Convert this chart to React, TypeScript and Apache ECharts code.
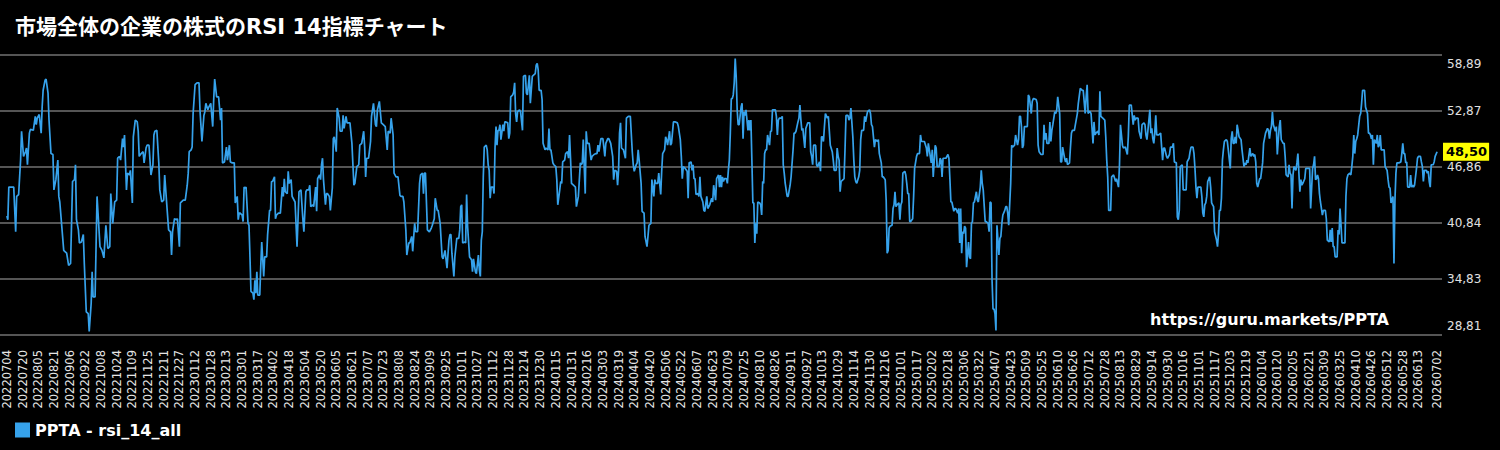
import React, { useEffect, useRef } from 'react';
import * as echarts from 'echarts';

const TITLE = '市場全体の企業の株式のRSI 14指標チャート';
const SERIES_NAME = 'PPTA - rsi_14_all';
const WATERMARK = 'https://guru.markets/PPTA';
const FIRST_DAY_UTC = Date.UTC(2022, 6, 4); // 20220704
const DAY_COUNT = 1460; // 20220704 .. 20260702
const LABEL_EVERY = 16;
const Y_MIN = 28.81;
const Y_MAX = 58.89;
const Y_STEP = 6.016;
const PAD_LEFT = 7;
const PAD_RIGHT = 5;

// day offset from 20220704 for each point
const rsiDays = [
  0,1,2,7,9,10,12,14,15,17,19,20,21,23,24,27,29,30,31,33,35,36,37,39,40,42,43,45,47,48,50,52,53,54,56,58,59,61,63,65,66,67,69,70,71,73,74,76,78,79,81,83,84,86,87,88,90,92,93,95,97,99,101,103,105,106,108,110,112,113,115,116,118,119,120,122,123,125,126,128,129,131,133,134,135,137,139,140,142,143,145,147,149,150,151,153,155,156,158,160,161,163,165,167,168,169,171,173,174,176,177,180,182,184,185,186,188,189,190,192,194,196,197,199,201,202,203,205,206,208,210,211,212,214,216,218,219,220,222,224,225,227,228,230,232,233,235,236,237,
  238,240,241,242,243,244,246,247,248,249,251,252,253,254,255,256,258,259,260,262,263,265,266,268,269,270,271,273,274,275,277,279,281,282,283,284,286,287,288,290,291,292,294,296,297,298,300,302,303,305,306,308,309,310,312,313,315,316,317,319,320,321,322,323,325,326,327,329,330,332,333,334,336,337,339,340,342,343,344,346,347,350,352,354,355,357,359,360,362,364,365,366,367,369,371,372,374,376,377,378,380,382,384,386,388,389,391,392,394,395,397,399,401,402,404,405,407,408,410,411,413,414,416,417,419,421,422,424,425,426,427,429,431,433,434,436,437,439,440,442,444,445,447,449,451,452,453,454,456,457,459,461,462,463,464,465,467,468,469,470,472,474,475,476,478,479,481,482,
  483,484,485,486,487,489,490,491,492,493,494,496,497,498,499,500,501,502,503,504,506,507,508,509,511,512,513,514,516,517,518,519,520,521,523,524,526,527,529,530,531,533,534,536,537,539,540,541,542,543,545,546,547,549,550,552,553,554,555,557,558,560,561,562,564,565,566,567,569,570,572,573,574,575,576,578,580,581,583,584,585,586,587,588,590,591,592,594,596,597,599,601,602,603,604,606,608,609,610,611,613,614,616,618,619,620,622,623,624,625,626,627,629,631,632,634,636,638,639,640,642,643,644,645,647,648,650,651,653,654,655,657,658,660,661,662,664,665,667,668,669,671,672,673,674,676,677,678,680,682,684,685,687,688,689,690,692,694,695,696,698,699,700,701,702,703,705,706,707,708,710,711,712,714,715,717,719,720,721,723,724,726,727,
  728,729,730,731,732,734,735,736,737,738,739,740,741,742,743,744,745,746,747,749,750,751,752,753,754,756,757,758,759,760,761,762,763,764,765,766,768,769,770,771,772,773,774,775,776,778,779,780,781,782,784,785,786,787,788,790,791,792,793,794,796,797,799,800,802,803,804,805,807,808,809,810,811,812,813,814,815,817,819,820,821,822,823,825,826,827,829,830,831,832,833,834,835,837,838,840,842,843,844,846,847,848,849,850,851,853,854,855,856,858,859,860,861,863,864,865,866,867,869,870,871,872,874,875,876,877,878,880,881,882,883,885,886,888,889,890,892,893,894,896,897,898,899,900,901,903,904,905,906,907,908,910,911,912,913,914,916,917,918,919,920,921,922,924,925,926,928,929,931,932,933,934,936,938,939,940,941,942,943,944,945,947,948,949,951,952,953,954,955,956,958,960,961,962,963,964,966,967,968,970,971,972,
  973,974,975,976,977,978,979,981,982,983,984,985,986,987,989,990,991,993,994,995,996,998,999,1001,1002,1003,1004,1005,1006,1007,1008,1009,1010,1012,1013,1014,1015,1016,1018,1019,1020,1021,1022,1024,1025,1026,1028,1029,1031,1032,1033,1034,1035,1036,1037,1038,1040,1041,1042,1043,1045,1046,1047,1048,1050,1051,1052,1053,1055,1057,1058,1059,1060,1061,1063,1064,1065,1066,1067,1069,1070,1071,1072,1074,1075,1076,1077,1079,1080,1081,1082,1084,1085,1086,1087,1089,1090,1092,1093,1095,1097,1098,1100,1101,1102,1103,1104,1105,1106,1108,1109,1110,1111,1113,1114,1115,1116,1118,1120,1121,1122,1123,1124,1126,1127,1129,1131,1132,1134,1135,1136,1138,1139,1141,1143,1144,1145,1147,1149,1150,1151,1152,1154,1155,1157,1158,1160,1161,1162,1163,1164,1166,1167,1168,1169,1170,1171,1172,1173,1175,1177,1178,1179,1180,1181,1183,1184,1186,1187,1189,1190,1191,1193,1194,1195,1196,1197,1199,1200,1201,1203,1204,1206,1207,1208,1210,1211,1212,1213,1214,1215,1217,
  1218,1219,1220,1221,1222,1223,1224,1225,1227,1228,1229,1230,1231,1232,1234,1235,1236,1237,1238,1239,1240,1241,1242,1244,1245,1246,1248,1249,1250,1251,1252,1253,1254,1255,1256,1257,1259,1260,1262,1263,1264,1265,1266,1268,1269,1270,1271,1272,1273,1274,1275,1276,1278,1279,1281,1282,1284,1286,1287,1288,1289,1290,1291,1292,1294,1295,1296,1297,1298,1299,1300,1302,1303,1304,1305,1307,1308,1309,1310,1311,1312,1313,1315,1316,1317,1319,1320,1321,1322,1324,1325,1327,1329,1330,1332,1333,1334,1335,1336,1337,1338,1339,1340,1342,1343,1345,1346,1347,1349,1350,1351,1352,1353,1354,1355,1357,1358,1359,1360,1361,1362,1364,1365,1366,1367,1368,1370,1371,1372,1373,1374,1375,1376,1377,1378,1380,1381,1382,1383,1384,1385,1386,1388,1389,1390,1391,1392,1393,1394,1395,1397,1398,1399,1400,1401,1402,1403,1405,1406,1408,1409,1410,1411,1412,1414,1415,1416,1417,1418,1420,1422,1423,1424,1425,1426,1427,1428,1429,1431,1432,1433,1434,1435,1436,1438,1439,1440,1442,1443,1444,1445,1446,1448,1449,1450,1451,1452,1453,1455,1456,1457,1459
];

// RSI 14 value at each of the days above
const rsiValues = [
  41.6,41.2,44.7,44.7,39.9,43.7,43.9,47.6,50.7,48.0,48.5,48.9,47.1,50.5,50.9,50.8,52.3,51.4,52.1,52.5,50.5,53.3,55.1,56.2,56.3,54.8,51.9,48.3,48.2,44.4,45.5,47.6,43.7,43.1,40.5,37.9,37.8,37.6,36.3,36.5,40.8,45.3,45.5,47.1,41.2,40.1,38.7,38.8,39.6,36.5,31.3,31.1,29.2,32.2,35.6,32.9,32.9,43.7,41.9,38.3,37.9,37.1,40.6,38.1,38.3,44.0,40.8,43.1,43.3,47.8,48.0,47.6,49.9,49.0,50.3,44.4,46.2,46.0,46.5,43.0,50.1,51.9,51.7,50.7,48.0,48.3,48.5,47.3,48.9,49.2,49.2,46.0,47.1,50.3,50.7,50.8,47.3,44.4,43.1,43.3,46.0,43.0,40.1,39.9,37.4,39.9,41.3,41.2,41.3,38.3,43.0,43.3,43.3,44.9,46.2,48.5,48.7,49.0,52.6,55.7,55.9,55.9,53.0,49.6,52.4,52.8,53.7,53.0,53.3,53.7,51.2,54.1,56.3,54.4,54.4,51.9,53.2,47.3,47.4,49.0,47.6,49.2,47.4,47.3,47.3,43.0,43.7,41.2,41.9,
  41.9,41.7,41.0,44.7,44.6,44.7,40.8,40.6,37.2,33.5,33.3,32.6,34.7,33.3,35.6,33.1,33.1,36.2,38.8,35.1,37.2,37.2,39.6,42.2,42.2,45.3,45.3,45.8,41.3,41.7,41.9,41.9,44.7,43.7,45.6,44.2,44.0,46.4,45.1,45.5,43.7,43.5,43.1,38.3,41.2,44.2,44.4,41.2,39.9,44.2,44.4,44.4,44.9,42.6,42.8,42.6,44.7,42.1,45.6,46.0,45.5,47.1,47.8,45.5,42.8,44.0,44.0,43.7,42.2,44.6,49.9,50.1,48.5,53.2,52.1,50.7,50.7,52.4,51.0,52.3,51.6,51.6,49.4,44.9,45.1,46.9,47.1,49.2,49.4,50.7,49.0,45.8,47.8,47.8,49.6,52.3,53.7,51.4,51.2,53.0,53.9,51.6,51.4,51.2,48.7,50.7,50.5,52.1,50.3,46.2,45.8,45.8,43.8,43.7,43.7,43.1,40.1,37.4,38.7,38.7,39.4,37.8,40.8,39.9,39.9,45.1,46.0,46.2,44.0,46.2,46.2,40.1,39.9,40.3,40.6,41.3,43.5,42.2,42.2,40.8,37.2,37.0,37.9,36.0,39.0,39.6,39.6,37.6,35.1,37.2,39.2,39.2,40.1,42.6,42.8,38.7,38.8,38.7,43.9,40.5,37.2,36.9,35.6,37.0,35.6,35.4,37.4,35.8,
  35.1,39.0,39.9,45.8,49.0,49.2,48.7,47.1,46.5,43.5,44.7,44.7,44.0,49.0,51.2,49.2,50.8,50.8,51.4,49.8,51.4,50.7,51.7,51.7,51.6,49.9,50.5,54.4,54.6,54.9,55.9,52.6,51.7,52.8,53.0,52.8,50.8,56.6,56.7,54.8,54.6,56.7,53.7,56.6,56.7,56.9,57.8,58.0,57.3,55.1,55.1,54.1,49.4,48.7,48.9,48.7,51.0,48.7,48.7,47.3,47.1,46.9,45.5,42.8,44.4,45.3,45.1,47.4,47.6,48.3,48.5,47.8,50.3,47.8,45.1,44.9,44.7,42.6,43.7,45.5,47.3,47.1,47.3,49.8,44.0,50.7,49.4,49.4,47.6,48.0,48.2,48.3,48.3,49.2,48.5,49.9,49.9,49.0,48.0,49.4,49.9,49.9,49.4,48.0,45.5,46.5,46.4,44.9,46.5,50.5,51.6,48.9,48.7,47.8,52.1,52.3,52.3,48.5,47.1,46.4,47.1,47.3,48.7,47.6,45.1,42.1,41.9,39.4,38.3,39.4,40.6,40.8,45.5,43.7,45.5,45.1,45.1,46.2,43.9,46.4,48.3,48.7,50.1,49.8,49.2,50.7,49.2,49.4,51.7,51.7,51.6,51.2,49.8,48.0,45.6,46.9,46.7,46.4,43.5,47.3,47.4,46.5,47.1,45.6,45.6,43.9,44.0,43.7,45.8,43.7,43.1,42.2,42.1,43.7,42.4,42.8,43.5,43.1,44.9,43.3,45.6,46.0,44.7,
  46.0,44.7,45.8,45.3,45.6,45.6,45.1,46.5,47.6,50.5,54.2,54.2,54.6,55.9,58.5,56.6,53.0,51.4,51.4,53.3,53.7,49.9,52.8,52.4,53.0,50.8,51.9,50.8,51.9,47.6,43.0,43.0,38.7,40.8,39.7,43.1,43.0,42.8,41.7,45.3,45.1,48.3,48.7,48.7,50.3,49.2,50.7,50.7,53.0,53.0,53.0,52.3,50.3,51.9,52.1,52.1,52.3,47.1,46.2,45.1,43.7,43.7,44.9,45.8,48.7,50.5,50.5,50.7,51.7,52.1,53.5,51.9,50.8,51.0,49.9,48.9,51.0,51.6,51.6,48.5,48.0,47.1,49.2,49.2,47.1,46.9,47.4,46.4,50.1,50.1,49.6,51.2,52.6,52.1,52.3,49.2,48.5,47.6,46.5,46.5,48.9,48.0,47.6,44.2,45.3,45.5,45.6,48.7,52.4,52.4,51.9,52.1,53.2,50.1,47.6,45.8,45.3,45.1,45.8,46.5,49.8,50.8,50.8,52.3,51.7,52.3,52.8,53.0,52.6,51.4,51.2,49.0,49.8,49.6,49.8,48.3,47.3,45.8,45.8,45.5,43.3,37.6,37.9,40.3,40.5,40.6,42.4,42.8,44.2,42.6,42.8,43.0,41.2,42.8,43.1,46.2,46.4,46.0,45.1,44.0,44.0,41.0,41.0,41.3,43.7,46.7,48.0,48.3,48.3,50.3,49.6,49.6,49.6,48.9,48.0,49.4,48.7,48.0,47.3,48.7,45.8,49.2,48.9,46.9,46.9,47.8,47.6,45.8,47.8,47.8,47.8,48.2,47.8,45.6,43.1,43.1,42.1,42.4,42.4,41.9,42.4,38.7,
  42.4,37.6,39.9,39.7,40.5,40.3,36.1,38.8,37.2,37.0,40.8,41.0,43.0,43.1,44.2,43.3,43.1,44.7,46.5,45.1,44.4,41.0,41.0,40.8,39.9,43.1,43.0,34.7,31.6,31.6,31.1,29.3,40.6,37.4,39.2,39.4,40.8,41.7,42.2,42.6,42.6,41.9,40.6,45.1,49.2,49.0,49.2,50.3,49.2,49.8,52.3,52.3,51.2,48.9,49.2,51.2,51.2,51.2,54.6,54.4,52.6,53.9,54.2,54.2,54.1,53.7,49.2,48.5,48.2,48.2,51.4,49.8,50.5,49.4,49.4,51.7,49.6,50.8,51.4,52.8,52.6,53.0,54.4,52.6,47.4,47.4,49.0,47.8,47.4,47.8,47.1,47.3,49.0,50.5,50.8,50.8,51.4,52.6,53.7,55.3,55.1,55.1,52.6,54.4,55.7,52.6,52.8,52.8,52.6,49.4,51.7,50.3,50.5,50.7,50.3,55.0,52.3,52.1,51.9,50.1,47.6,45.8,42.2,42.2,45.8,46.0,45.3,45.6,44.7,47.1,51.4,49.2,48.9,49.0,48.2,50.1,53.5,53.5,51.4,52.4,51.9,52.1,52.1,50.7,49.9,51.4,51.6,51.4,50.3,49.8,50.8,53.0,50.5,51.0,49.9,49.4,50.5,52.4,50.3,50.3,50.5,49.0,47.6,48.9,48.9,48.0,47.8,48.2,49.0,49.0,49.4,47.4,47.3,41.5,41.2,42.2,46.9,47.1,44.4,44.4,44.4,47.4,47.8,48.5,49.0,49.0,48.3,46.7,44.7,43.5,44.7,44.7,
  44.7,43.7,41.9,41.5,42.8,43.0,43.7,45.3,45.8,44.7,43.0,42.8,42.6,39.9,39.0,38.3,39.7,42.2,42.2,43.5,47.6,48.7,49.6,49.8,49.6,48.7,46.7,49.9,50.7,49.4,49.4,50.1,49.4,51.4,50.8,50.1,49.8,48.7,46.9,47.3,47.1,47.6,47.3,48.9,48.0,48.2,48.3,48.0,48.2,47.4,45.1,44.7,45.6,45.6,47.3,49.4,50.5,51.0,50.8,49.9,50.8,51.2,52.8,51.4,50.7,51.2,48.2,49.8,51.2,51.9,49.8,49.4,49.4,48.0,46.0,45.8,47.1,46.2,46.0,42.4,46.0,46.9,46.5,47.3,48.3,44.2,45.5,44.9,45.1,45.6,46.7,46.7,46.7,42.4,46.7,47.1,48.0,45.5,45.6,46.0,45.6,44.0,43.1,41.7,42.2,42.2,41.3,39.0,38.8,40.1,38.8,40.3,38.3,38.3,37.2,37.2,40.1,39.6,42.4,40.6,38.7,38.7,38.7,43.7,45.6,46.0,46.2,46.0,46.9,48.0,50.3,48.3,49.6,49.9,50.3,52.3,52.6,53.7,55.1,55.1,55.1,53.3,52.6,50.5,50.5,50.3,49.9,50.3,47.1,49.8,49.4,50.3,49.0,49.2,50.3,48.7,48.7,48.7,46.9,46.5,45.5,44.7,44.6,43.0,43.7,36.5,43.3,46.2,47.3,47.3,47.4,48.3,49.4,48.3,48.3,47.3,47.4,44.7,44.7,46.0,44.7,44.9,44.7,44.9,46.7,47.8,48.0,48.0,47.4,46.9,45.3,46.5,46.5,46.2,46.4,45.3,44.7,47.1,47.1,47.4,48.0,48.5
];

const pad2 = (n: number) => (n < 10 ? '0' : '') + n;
const dateLabels: string[] = [];
for (let i = 0; i < DAY_COUNT; i++) {
  const d = new Date(FIRST_DAY_UTC + i * 86400000);
  dateLabels.push(`${d.getUTCFullYear()}${pad2(d.getUTCMonth() + 1)}${pad2(d.getUTCDate())}`);
}
const categories: string[] = [
  ...Array.from({ length: PAD_LEFT }, (_, k) => `padL${k}`),
  ...dateLabels,
  ...Array.from({ length: PAD_RIGHT }, (_, k) => `padR${k}`),
];

const fmt = (v: number) => v.toFixed(2).replace('.', ',');
const FONT = '"DejaVu Sans", "Noto Sans CJK JP", sans-serif';

export default function App() {
  const ref = useRef<HTMLDivElement>(null);
  useEffect(() => {
    if (!ref.current) return;
    const chart = echarts.init(ref.current, null, { renderer: 'svg' });
    const lastDay = DAY_COUNT - 1;
    const lastValue = rsiValues[rsiValues.length - 1];
    const seriesData = rsiDays.map((d, i) => [d + PAD_LEFT, rsiValues[i]]);
    chart.setOption({
      animation: false,
      backgroundColor: '#000000',
      textStyle: { fontFamily: FONT },
      title: [
        {
          text: TITLE,
          left: 15,
          top: 16,
          padding: 0,
          textStyle: { color: '#ffffff', fontSize: 21, fontWeight: 'bold', fontFamily: FONT },
        },
        {
          text: WATERMARK,
          right: 111,
          top: 311,
          padding: 0,
          textStyle: { color: '#ffffff', fontSize: 16, fontWeight: 'bold', fontFamily: FONT },
        },
      ],
      legend: {
        left: 15,
        top: 422,
        padding: 0,
        icon: 'rect',
        itemWidth: 15,
        itemHeight: 15,
        itemGap: 10,
        textStyle: { color: '#ffffff', fontSize: 16, fontWeight: 'bold', fontFamily: FONT },
        data: [SERIES_NAME],
      },
      grid: { left: 0, right: 58, top: 55, bottom: 115, containLabel: false },
      xAxis: {
        type: 'category',
        data: categories,
        boundaryGap: false,
        axisLine: { show: false },
        axisTick: { show: false },
        splitLine: { show: false },
        axisLabel: {
          rotate: 90,
          margin: 15,
          fontSize: 11.5,
          color: '#e6e6e6',
          fontFamily: FONT,
          interval: (index: number) => {
            const d = index - PAD_LEFT;
            if (d < 0 || d > lastDay) return false;
            return d === lastDay || (d % LABEL_EVERY === 0 && lastDay - d >= LABEL_EVERY);
          },
        },
      },
      yAxis: {
        type: 'value',
        position: 'right',
        min: Y_MIN,
        max: Y_MAX,
        interval: Y_STEP,
        axisLine: { show: false },
        axisTick: { show: false },
        splitLine: { show: true, lineStyle: { color: '#555555', width: 2 } },
        axisLabel: {
          margin: 5,
          fontSize: 12,
          color: '#e0e0e0',
          fontFamily: FONT,
          formatter: (v: number) => {
            if (Math.abs(v - Y_MAX) < 1e-6) return `{t|${fmt(v)}}`;
            if (Math.abs(v - Y_MIN) < 1e-6) return `{b|${fmt(v)}}`;
            return fmt(v);
          },
          rich: {
            t: { padding: [18, 0, 0, 0], fontSize: 12, color: '#e0e0e0', lineHeight: 14, fontFamily: FONT },
            b: { padding: [0, 0, 18, 0], fontSize: 12, color: '#e0e0e0', lineHeight: 14, fontFamily: FONT },
          },
        },
      },
      series: [
        {
          name: SERIES_NAME,
          type: 'line',
          data: seriesData,
          showSymbol: false,
          symbol: 'none',
          color: '#36a2eb',
          lineStyle: { color: '#36a2eb', width: 1.7 },
          markLine: {
            silent: true,
            symbol: 'none',
            lineStyle: { color: 'rgba(0,0,0,0)', width: 0, type: 'solid' },
            data: [{ yAxis: lastValue }],
            label: {
              show: true,
              opacity: 1,
              position: 'end',
              distance: 1,
              formatter: () => fmt(lastValue),
              backgroundColor: '#ffff00',
              color: '#000000',
              fontWeight: 'bold',
              fontSize: 13,
              lineHeight: 14,
              padding: [2, 2, 2, 3],
              fontFamily: FONT,
            },
          },
        },
      ],
    });
    return () => chart.dispose();
  }, []);
  return (
    <div
      ref={ref}
      style={{ position: 'fixed', left: 0, top: 0, width: 1500, height: 450, background: '#000' }}
    />
  );
}
